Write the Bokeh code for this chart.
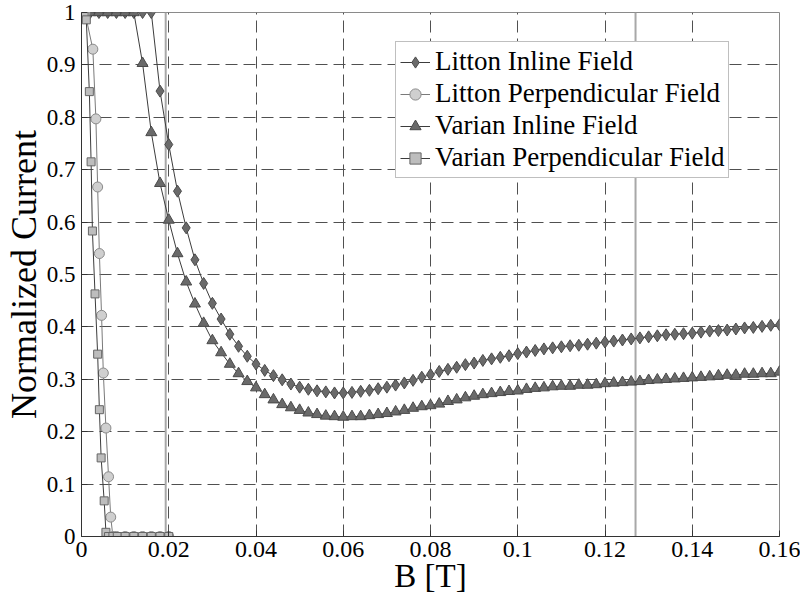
from bokeh.plotting import figure
from bokeh.models import Range1d, Span, Legend, LegendItem, FixedTicker
from bokeh.embed import file_html
from bokeh.resources import INLINE

# ---------------- data ----------------
x_ticks = [0, 0.02, 0.04, 0.06, 0.08, 0.1, 0.12, 0.14, 0.16]
x_tick_labels = ["0", "0.02", "0.04", "0.06", "0.08", "0.1", "0.12", "0.14", "0.16"]
y_ticks = [0, 0.1, 0.2, 0.3, 0.4, 0.5, 0.6, 0.7, 0.8, 0.9, 1.0]
y_tick_labels = ["0", "0.1", "0.2", "0.3", "0.4", "0.5", "0.6", "0.7", "0.8", "0.9", "1"]

inline_x = [0.000, 0.002, 0.004, 0.006, 0.008, 0.010, 0.012, 0.014, 0.016, 0.018,
            0.020, 0.022, 0.024, 0.026, 0.028, 0.030, 0.032, 0.034, 0.036, 0.038,
            0.040, 0.042, 0.044, 0.046, 0.048, 0.050, 0.052, 0.054, 0.056, 0.058,
            0.060, 0.062, 0.064, 0.066, 0.068, 0.070, 0.072, 0.074, 0.076, 0.078,
            0.080, 0.082, 0.084, 0.086, 0.088, 0.090, 0.092, 0.094, 0.096, 0.098,
            0.100, 0.102, 0.104, 0.106, 0.108, 0.110, 0.112, 0.114, 0.116, 0.118,
            0.120, 0.122, 0.124, 0.126, 0.128, 0.130, 0.132, 0.134, 0.136, 0.138,
            0.140, 0.142, 0.144, 0.146, 0.148, 0.150, 0.152, 0.154, 0.156, 0.158,
            0.160]

litton_inline = [1.0, 1.0, 1.0, 1.0, 1.0, 1.0, 1.0, 1.0, 1.0, 0.850,
                 0.748, 0.659, 0.589, 0.528, 0.483, 0.445, 0.415, 0.386, 0.363, 0.344,
                 0.329, 0.317, 0.307, 0.299, 0.291, 0.285, 0.281, 0.278, 0.276, 0.274,
                 0.274, 0.275, 0.277, 0.279, 0.282, 0.285, 0.289, 0.293, 0.298, 0.304,
                 0.309, 0.315, 0.319, 0.323, 0.328, 0.331, 0.336, 0.339, 0.342, 0.345,
                 0.349, 0.352, 0.355, 0.358, 0.360, 0.362, 0.364, 0.365, 0.367, 0.369,
                 0.371, 0.373, 0.375, 0.377, 0.379, 0.381, 0.383, 0.385, 0.386, 0.387,
                 0.388, 0.390, 0.392, 0.393, 0.394, 0.396, 0.398, 0.399, 0.401, 0.403,
                 0.404]

varian_inline = [1.0, 1.0, 1.0, 1.0, 1.0, 1.0, 1.0, 0.903, 0.771, 0.674,
                 0.604, 0.540, 0.486, 0.444, 0.407, 0.374, 0.351, 0.329, 0.311, 0.296,
                 0.284, 0.271, 0.261, 0.252, 0.246, 0.241, 0.236, 0.233, 0.230, 0.229,
                 0.228, 0.229, 0.229, 0.231, 0.233, 0.235, 0.238, 0.241, 0.245, 0.248,
                 0.250, 0.253, 0.258, 0.261, 0.265, 0.268, 0.271, 0.273, 0.275, 0.277,
                 0.278, 0.281, 0.283, 0.284, 0.286, 0.287, 0.287, 0.289, 0.289, 0.290,
                 0.292, 0.293, 0.294, 0.295, 0.296, 0.298, 0.299, 0.300, 0.301, 0.302,
                 0.303, 0.304, 0.305, 0.307, 0.308, 0.308, 0.310, 0.310, 0.311, 0.311,
                 0.314]

litton_perp_x = [0.0008, 0.0026, 0.0033, 0.0037, 0.0041, 0.0046, 0.0050, 0.0056, 0.0062,
                 0.0067, 0.0072, 0.0080, 0.0100, 0.0120, 0.0140, 0.0160, 0.0180, 0.0200]
litton_perp = [1.0, 0.930, 0.797, 0.667, 0.540, 0.422, 0.312, 0.207, 0.114,
               0.037, 0.0, 0.0, 0.0, 0.0, 0.0, 0.0, 0.0, 0.0]

varian_perp_x = [0.0006, 0.0011, 0.0018, 0.0022, 0.0025, 0.0031, 0.0037, 0.0041, 0.0045,
                 0.0052, 0.0056, 0.0062, 0.0072, 0.0082, 0.0100, 0.0120, 0.0140, 0.0160,
                 0.0180, 0.0200]
varian_perp = [1.0, 0.986, 0.849, 0.715, 0.583, 0.463, 0.348, 0.242, 0.150,
               0.068, 0.008, 0.0, 0.0, 0.0, 0.0, 0.0, 0.0, 0.0,
               0.0, 0.0]

series_names = ["Litton Inline Field", "Litton Perpendicular Field",
                "Varian Inline Field", "Varian Perpendicular Field"]

ref_lines = [0.0193, 0.127]

# ---------------- figure ----------------
FONT = "'Liberation Serif', 'Times New Roman', serif"
FONT_Q = '"Liberation Serif"'

p = figure(width=800, height=601, output_backend="svg", toolbar_location=None,
           x_range=Range1d(0, 0.16), y_range=Range1d(0, 1),
           min_border_left=75, min_border_right=21, min_border_top=12, min_border_bottom=65,
           background_fill_color="white", border_fill_color="white")

p.outline_line_color = "#8a8a8a"
p.outline_line_width = 1

for ax in (p.xaxis[0], p.yaxis[0]):
    ax.major_tick_in = 6
    ax.major_tick_out = 0
    ax.major_tick_line_color = "#333333"
    ax.minor_tick_line_color = None
    ax.axis_line_color = "#333333"
    ax.major_label_text_color = "black"
    ax.major_label_text_font_style = "normal"
    ax.major_label_text_font = FONT_Q
    ax.axis_label_text_font = FONT
    ax.axis_label_text_font_style = "normal"
    ax.axis_label_text_color = "black"

p.xaxis[0].ticker = FixedTicker(ticks=x_ticks)
p.yaxis[0].ticker = FixedTicker(ticks=y_ticks)
p.xaxis[0].major_label_overrides = {t: l for t, l in zip(x_ticks, x_tick_labels)}
p.yaxis[0].major_label_overrides = {t: l for t, l in zip(y_ticks, y_tick_labels)}
p.xaxis[0].major_label_text_font_size = "24px"
p.yaxis[0].major_label_text_font_size = "23px"
p.xaxis[0].major_label_standoff = 5
p.yaxis[0].major_label_standoff = 6

p.xaxis[0].axis_label = "B [T]"
p.xaxis[0].axis_label_text_font_size = "33px"
p.xaxis[0].axis_label_standoff = -2
p.yaxis[0].axis_label = "Normalized Current"
p.yaxis[0].axis_label_text_font_size = "36px"
p.yaxis[0].axis_label_standoff = 0

p.xgrid.ticker = FixedTicker(ticks=x_ticks)
p.ygrid.ticker = FixedTicker(ticks=y_ticks)
for g in (p.xgrid[0], p.ygrid[0]):
    g.grid_line_color = "#505050"
    g.grid_line_dash = "12 6"
    g.grid_line_width = 1

for loc in ref_lines:
    p.add_layout(Span(location=loc, dimension="height", line_color="#a8a8a8",
                      line_width=2, level="underlay"))

# series
lc = "#3c3c3c"
r1l = p.line(inline_x, litton_inline, line_color=lc, line_width=1)
r1m = p.scatter(inline_x, litton_inline, marker="diamond", size=12,
                fill_color="#6a6a6a", line_color="#4a4a4a", line_width=1)

r3l = p.line(inline_x, varian_inline, line_color=lc, line_width=1)
r3m = p.scatter(inline_x, varian_inline, marker="triangle", size=11,
                fill_color="#6a6a6a", line_color="#4a4a4a", line_width=1)

r2l = p.line(litton_perp_x, litton_perp, line_color="#7a7a7a", line_width=1)
r2m = p.scatter(litton_perp_x, litton_perp, marker="circle", size=10,
                fill_color="#cfcfcf", line_color="#8a8a8a", line_width=1)

r4l = p.line(varian_perp_x, varian_perp, line_color=lc, line_width=1)
r4m = p.scatter(varian_perp_x, varian_perp, marker="square", size=8,
                fill_color="#bdbdbd", line_color="#666666", line_width=1)

legend = Legend(items=[
    LegendItem(label=series_names[0], renderers=[r1l, r1m]),
    LegendItem(label=series_names[1], renderers=[r2l, r2m]),
    LegendItem(label=series_names[2], renderers=[r3l, r3m]),
    LegendItem(label=series_names[3], renderers=[r4l, r4m]),
], location=(314, 358))
legend.label_text_font = FONT_Q
legend.label_text_font_style = "normal"
legend.label_text_font_size = "27px"
legend.label_text_color = "black"
legend.glyph_width = 30
legend.glyph_height = 28
legend.label_height = 28
legend.label_standoff = 5
legend.spacing = 1
legend.padding = 4
legend.margin = 0
legend.border_line_color = "#808080"
legend.border_line_width = 1
legend.background_fill_color = "white"
legend.background_fill_alpha = 1
p.add_layout(legend, "center")

open("out.html", "w").write(file_html(p, INLINE))
